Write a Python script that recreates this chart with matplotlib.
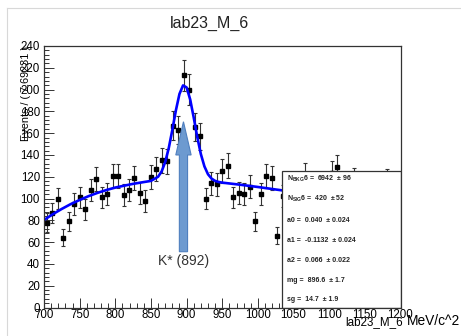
"""RooFit-style mass fit of lab23_M_6 with the K*(892) peak."""
import numpy as np
import matplotlib
matplotlib.use("Agg")
import matplotlib.pyplot as plt
from matplotlib.patches import Rectangle, FancyArrow
from matplotlib.lines import Line2D
from matplotlib.ticker import MultipleLocator

plt.rcParams["font.family"] = ["Liberation Sans", "DejaVu Sans"]
plt.rcParams["mathtext.fontset"] = "custom"
plt.rcParams["mathtext.rm"] = "Liberation Sans"
plt.rcParams["mathtext.bf"] = "Liberation Sans:bold"

# --- data ---
x_lo, x_hi, n_bins = 700.0, 1200.0, 65
counts = [78, 87, 100, 64, 79, 95, 101, 90, 108, 118,
          101, 104, 121, 121, 103, 108, 119, 105, 98, 120,
          127, 135, 134, 167, 163, 213, 200, 166, 157, 100,
          114, 113, 125, 130, 101, 105, 104, 111, 79, 104,
          121, 119, 66, 102, 108, 99, 110, 122, 96, 104,
          112, 100, 123, 129, 101, 94, 117, 104, 98, 107,
          92, 103, 116, 99, 106]

curve_mass = [700, 712.5, 725, 737.5, 750, 762.5, 775, 787.5, 800, 825, 850,
              860, 865, 870, 875, 880, 885, 890, 895, 900, 905, 910, 915,
              920, 925, 930, 935, 940, 945, 950, 975, 1000, 1025, 1050,
              1075, 1100, 1125, 1150, 1175, 1200]
curve_val = [80.3, 85.7, 90.5, 94.9, 98.7, 102.2, 105.2, 107.8, 110.1, 113.5, 116.2,
             120.0, 124.9, 133.5, 146.4, 163.0, 181.0, 196.0, 203.8, 202.0, 191.0,
             174.3, 156.3, 140.8, 129.5, 122.3, 118.3, 116.2, 115.2, 114.6, 112.7,
             110.6, 108.3, 106.1, 104.0, 102.3, 101.1, 100.5, 100.9, 102.2]

fit_names = [r"N$_{\mathregular{BKG}}$6", r"N$_{\mathregular{SIG}}$6", "a0", "a1", "a2", "mg", "sg"]
fit_values = ["6942", "420", "0.040", "-0.1132", "0.066", "896.6", "14.7"]
fit_errors = ["96", "52", "0.024", "0.024", "0.022", "1.7", "1.9"]

peak_mass = 895.6
peak_label = "K* (892)"

# --- figure ---
W, H = 461, 336
fig = plt.figure(figsize=(W / 100, H / 100), dpi=100)
ax = fig.add_axes([44 / W, 1 - 307.5 / H, 356.5 / W, 261.5 / H])

bin_width = (x_hi - x_lo) / n_bins
centres = x_lo + bin_width * (np.arange(n_bins) + 0.5)
counts = np.array(counts, dtype=float)
ax.errorbar(centres, counts, yerr=np.sqrt(counts), fmt="s", ms=2.4,
            color="black", ecolor="#333333", elinewidth=0.8,
            capsize=1.6, capthick=0.8, zorder=2)
ax.plot(curve_mass, curve_val, color="#0000ff", lw=1.9, zorder=2.1)

# stats box (covers the lower right of the frame, ticks stay on top)
ax.add_patch(Rectangle((1033.8, 0), x_hi - 1033.8, 125.3, facecolor="white",
                       edgecolor="#333333", lw=0.9, zorder=2.3))

ax.add_patch(FancyArrow(peak_mass, 51.2, 0, 170.5 - 51.2, width=11.5,
                        head_width=21.5, head_length=30.5, length_includes_head=True,
                        facecolor="#6d9ad0", edgecolor="#4f7fbf", lw=0.8, zorder=3))
ax.text(peak_mass, 43, peak_label, ha="center", va="center", fontsize=10, color="#333333")

ax.set_xlim(x_lo, x_hi)
ax.set_ylim(0, 240)
ax.xaxis.set_major_locator(MultipleLocator(50))
ax.xaxis.set_minor_locator(MultipleLocator(10))
ax.yaxis.set_major_locator(MultipleLocator(20))
ax.yaxis.set_minor_locator(MultipleLocator(4))
ax.tick_params(which="both", direction="in", top=False, right=False,
               width=0.7, color="#333333", labelsize=8.3)
ax.tick_params(which="major", length=7)
ax.tick_params(which="minor", length=3.4)
ax.tick_params(axis="y", pad=2.9)
ax.tick_params(axis="x", pad=1.2)
for s in ax.spines.values():
    s.set_color("#333333")
    s.set_linewidth(0.9)

# --- texts ---
fig.text(209 / W, 1 - 23 / H, "lab23_M_6", ha="center", va="center",
         fontsize=11.5, color="#222222")
fig.text(26 / W, 1 - 46 / H, "Events / ( 7.69231 )", rotation=90,
         ha="center", va="top", fontsize=7.8)
fig.text(403 / W, 1 - 325 / H, "lab23_M_6", ha="right", va="baseline", fontsize=8.4)
fig.text(407 / W, 1 - 325 / H, "MeV/c^2", ha="left", va="baseline", fontsize=9.9)

row_y = [179.3, 199.3, 220, 240, 260.7, 280, 299.3]
for name, val, err, y in zip(fit_names, fit_values, fit_errors, row_y):
    fig.text(286.7 / W, 1 - y / H, f"{name} =  {val}  \u00b1 {err}",
             ha="left", va="center", fontsize=5.0, fontweight="bold", color="#222222")

# canvas edge lines
fig.add_artist(Line2D([6.7 / W, 6.7 / W], [1 - 8 / H, 0], color="#d8d8d8", lw=0.8))
fig.add_artist(Line2D([6.7 / W, 1], [1 - 8 / H, 1 - 8 / H], color="#d8d8d8", lw=0.8))

fig.savefig("out.png", dpi=100)
plt.close(fig)
